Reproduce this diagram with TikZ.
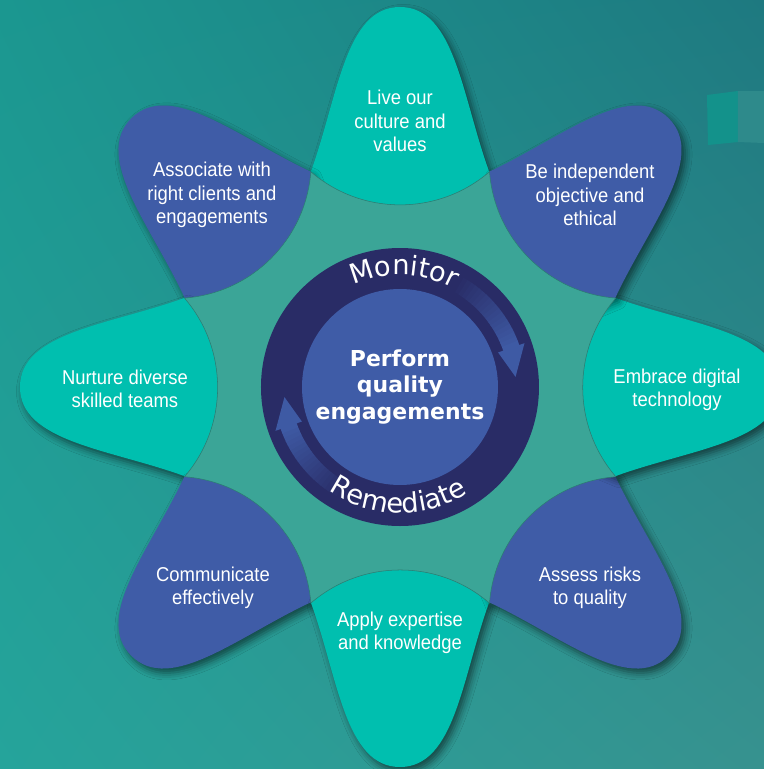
\documentclass[tikz,border=0pt]{standalone}
\usepackage{fontspec}
\setmainfont{Liberation Sans}
\newfontfamily\petalfont{Liberation Sans}[FakeStretch=0.92]
\newfontfamily\corefont{DejaVu Sans}
\newfontfamily\ringfont{DejaVu Sans}
\usetikzlibrary{decorations.text, shadows.blur, shadings}
\definecolor{cbgul}{HTML}{1B9790}
\definecolor{cbgur}{HTML}{1E7980}
\definecolor{cbgll}{HTML}{25A49B}
\definecolor{cbglr}{HTML}{37928F}
\definecolor{cteal}{HTML}{00BFAF}
\definecolor{cblue}{HTML}{3F5CA7}
\definecolor{ccore}{HTML}{3BA597}
\definecolor{cnavy}{HTML}{292C66}
\definecolor{cboxa}{HTML}{13928B}
\definecolor{cboxb}{HTML}{2E8A8B}
\tikzset{
  every picture/.style={x=0.02cm, y=0.02cm},
  petal/.style={fill=#1, blur shadow={shadow xshift=2pt, shadow yshift=-2.5pt, shadow blur radius=4pt, shadow opacity=55}},
  petaltext/.style={font=\petalfont\fontsize{11.4}{13.4}\selectfont, text=white, align=center},
  coretext/.style={font=\corefont\bfseries\fontsize{12.5}{15.1}\selectfont, text=white, align=center},
  ringtext/.style={decorate, decoration={text along path, text={|\ringfont\fontsize{15.5}{15.5}\selectfont|#1}, text align=center, text color=white}},
}
\begin{document}
\begin{tikzpicture}
  \useasboundingbox (-400,-382) rectangle (364,387);
  \clip (-400,-382) rectangle (364,387);
  \shade[upper left=cbgul, upper right=cbgur, lower left=cbgll, lower right=cbglr] (-400,-382) rectangle (364,387);
  % block in the backdrop
  \fill[cboxa] (307,292) -- (338,296) -- (338,245) -- (308,242) -- cycle;
  \fill[cboxb] (338,296) -- (364,296) -- (364,244) -- (338,245) -- cycle;
  % petals
  \foreach \a/\c in {0/cteal, 45/cblue, 90/cteal, 135/cblue, 180/cteal, 225/cblue, 270/cteal, 315/cblue} {
    \fill[petal=\c, rotate=\a] (0,0) -- (-89.2,215.3) .. controls (-62,290) and (-55,380) .. (0,380)
      .. controls (55,380) and (62,290) .. (89.2,215.3) -- cycle;
  }
  % core star
  \filldraw[fill=ccore, draw=ccore!75!black, line width=0.3pt] (112.5:233)
    \foreach \a in {90,45,...,-225} { arc[start angle=\a+180-40.7, end angle=\a+180+40.7, radius=137] } -- cycle;
  % ring
  \fill[cnavy] (0,0) circle[radius=139];
  \fill[cblue] (0,0) circle[radius=98];
  \foreach \r in {0,180} {
    \begin{scope}[rotate=\r]
      \foreach \i in {0,...,19} {
        \pgfmathsetmacro{\s}{62-\i*2.13}
        \pgfmathsetmacro{\e}{\s-2.5}
        \pgfmathtruncatemacro{\p}{5*\i}
        \fill[cblue!\p!cnavy] (\s:109.5) arc[start angle=\s, end angle=\e, radius=109.5]
          -- (\e:126.5) arc[start angle=\e, end angle=\s, radius=126.5] -- cycle;
      }
      \fill[cblue!95!cnavy] (19.4:104) -- (5:116) -- (19.4:132) -- cycle;
    \end{scope}
  }
  \path[ringtext=Monitor] (178:112) arc[start angle=178, end angle=-2, radius=112];
  \path[ringtext=Remediate] (179:126) arc[start angle=179, end angle=359, radius=126];
  \node[coretext] (perform) at (0,0) {Perform\\quality\\engagements};
  % petal labels
  \node[petaltext] (live) at (0,266) {Live our\\culture and\\values};
  \node[petaltext] (indep) at (190,192) {Be independent\\objective and\\ethical};
  \node[petaltext] (digital) at (277,-3) {Embrace digital\\technology};
  \node[petaltext] (risks) at (190,-201) {Assess risks\\to quality};
  \node[petaltext] (expert) at (0,-246) {Apply expertise\\and knowledge};
  \node[petaltext] (comm) at (-187,-201) {Communicate\\effectively};
  \node[petaltext] (nurture) at (-275,-2) {Nurture diverse\\skilled teams};
  \node[petaltext] (assoc) at (-188,192) {Associate with\\right clients and\\engagements};
\end{tikzpicture}
\end{document}
